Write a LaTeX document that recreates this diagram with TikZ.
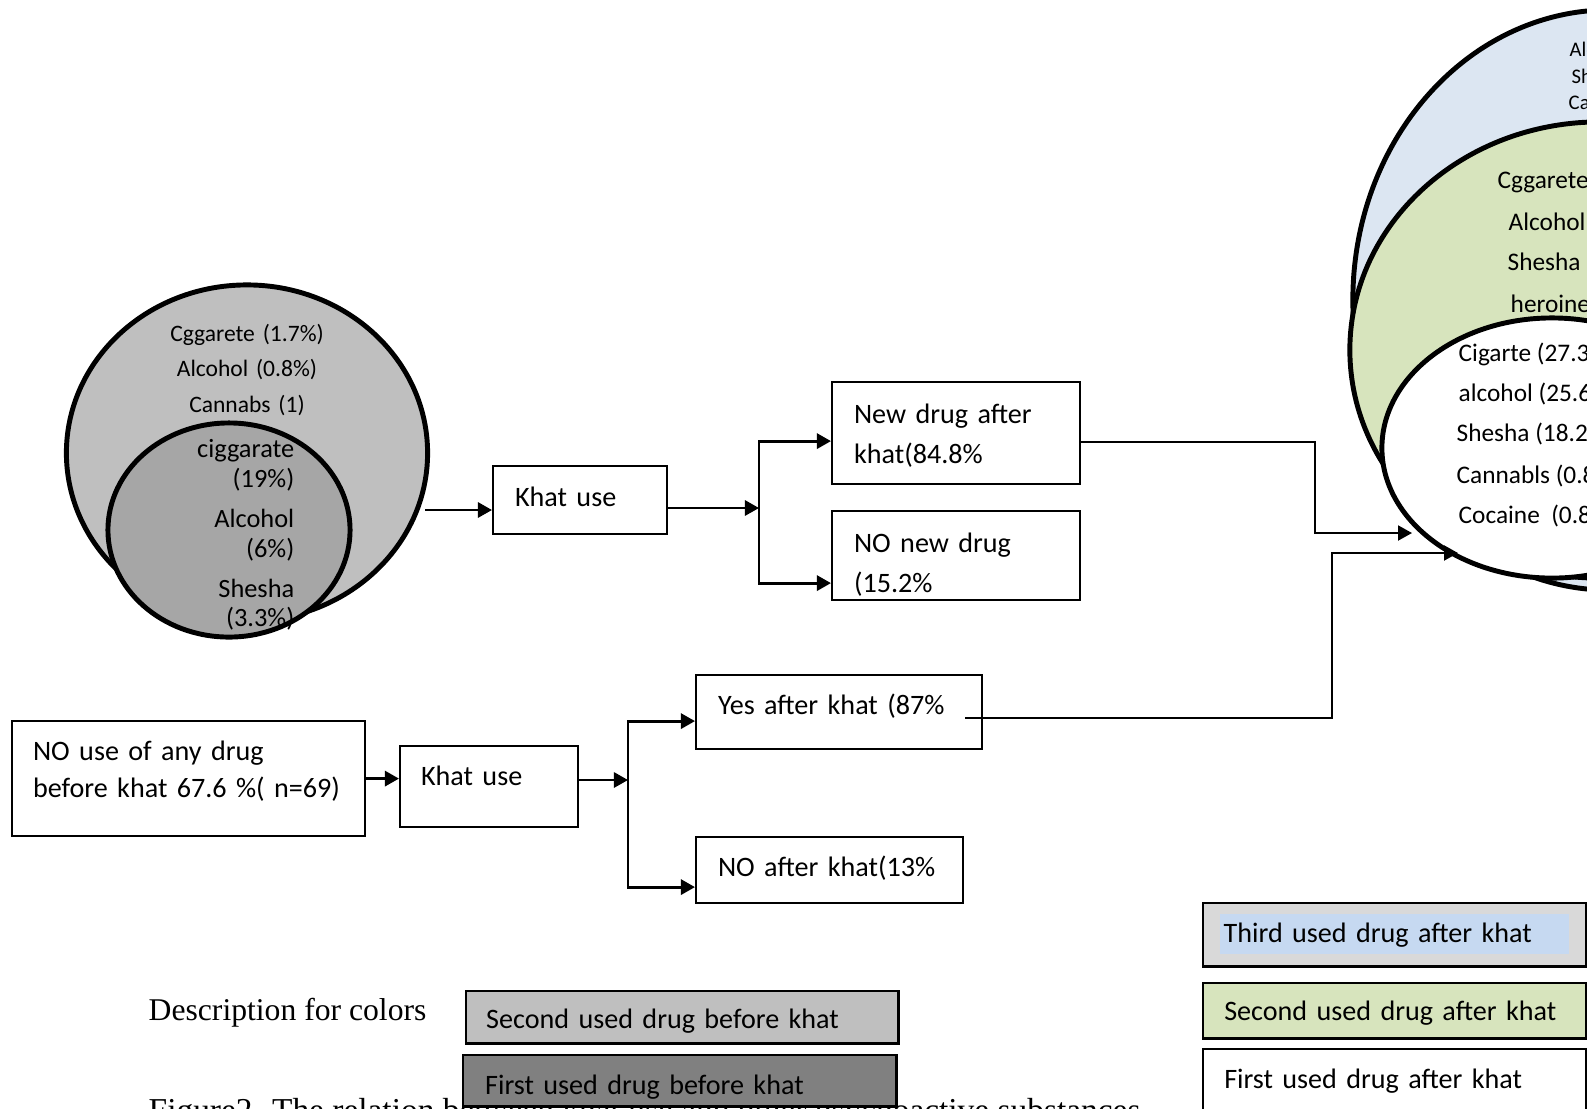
\documentclass[tikz,border=0pt]{standalone}
\usepackage{fontspec}
\setmainfont{Carlito}
\newfontfamily\serifcap{Liberation Serif}
\usetikzlibrary{arrows.meta, shapes.geometric}

\definecolor{graytwo}{HTML}{BFBFBF}
\definecolor{grayone}{HTML}{A6A6A6}
\definecolor{graydark}{HTML}{808080}
\definecolor{graylight}{HTML}{D9D9D9}
\definecolor{bluethree}{HTML}{DCE6F2}
\definecolor{bluehl}{HTML}{C6D9F1}
\definecolor{greentwo}{HTML}{D7E4BD}

\begin{document}
\begin{tikzpicture}[x=0.01cm, y=-0.01cm,
                    ring/.style={ellipse, draw, line width=1.4pt, inner sep=0pt},
                    stage/.style={rectangle, draw, line width=0.6pt, anchor=north west, inner ysep=0pt, align=left, font=\fontsize{8pt}{11.4pt}\selectfont},
                    swatch/.style={stage, line width=0.7pt},
                    drugs/.style={inner sep=0pt, text height=0pt, text depth=0pt, font=\fontsize{6.7pt}{10.1pt}\selectfont},
                    link/.style={draw, line width=0.8pt, -{Triangle[length=0.14cm, width=0.15cm]}},
                    longlink/.style={link, line width=0.6pt}
                ]
                    \useasboundingbox (0,0) rectangle (1587,1108);

                    % Drugs before khat
                    \node [ring, fill=graytwo, minimum width=3.61cm, minimum height=3.36cm] (secbefore) at (247,453) {};
                    \node [ring, fill=grayone, minimum width=2.42cm, minimum height=2.14cm] (firstbefore) at (229,530) {};
                    \node [drugs, anchor=north, align=center, text width=2cm] (secbeforelist) at (247,339) {Cggarete (1.7\%)\\Alcohol (0.8\%)\\Cannabs (1)};
                    \node [drugs, anchor=north east, align=right, text width=1.3cm, font=\fontsize{7.5pt}{8.5pt}\selectfont] (firstbeforelist) at (295,455) {ciggarate\\(19\%)\\[0.1cm]Alcohol\\(6\%)\\[0.1cm]Shesha\\(3.3\%)};

                    % Drugs after khat
                    \node [ring, fill=bluethree, minimum width=5.14cm, minimum height=5.8cm] (thirdafter) at (1610,300) {};
                    \node [ring, fill=greentwo, minimum width=5cm, minimum height=4.56cm] (secafter) at (1600,350) {};
                    \node [ring, fill=white, minimum width=3.4cm, minimum height=2.6cm] (firstafter) at (1552,448) {};
                    \foreach \dx/\dy/\dname in {1569/56/Alcohol, 1571/83/Shesha, 1568/109/Cannabis}
                        \node [drugs, anchor=base west, font=\fontsize{5.9pt}{7.5pt}\selectfont] (thirdafter-\dname) at (\dx,\dy) {\dname};
                    \foreach \dx/\dy/\dname in {1497/188/Cggarete, 1508/230/Alcohol, 1507/270/Shesha, 1510/312/heroine}
                        \node [drugs, anchor=base west, font=\fontsize{7.2pt}{9pt}\selectfont] (secafter-\dname) at (\dx,\dy) {\dname};
                    \foreach \dx/\dy/\dname in {1458/361/{Cigarte (27.3\%)}, 1458/401/{alcohol (25.6\%)}, 1456/441/{Shesha (18.2\%)}, 1456/483/{Cannabls (0.8\%)}, 1458/523/{Cocaine\ \ (0.8\%)}}
                        \node [drugs, anchor=base west, font=\fontsize{7.2pt}{9pt}\selectfont] (firstafter-\dy) at (\dx,\dy) {\dname};

                    % Place nodes
                    \node [stage, text width=1.30cm, inner xsep=0.22cm, text height=0.40cm, text depth=0.28cm] (khatA) at (492,465) {Khat use};
                    \node [stage, text width=2.04cm, inner xsep=0.22cm, text height=0.41cm, text depth=0.61cm] (newdrug) at (831,381) {New drug after\\khat(84.8\%};
                    \node [stage, text width=2.04cm, inner xsep=0.22cm, text height=0.41cm, text depth=0.48cm] (nonew) at (831,510) {NO new drug\\(15.2\%};
                    \node [stage, text width=3.11cm, inner xsep=0.21cm, text height=0.39cm, text depth=0.76cm, font=\fontsize{8pt}{10.5pt}\selectfont] (noany) at (11,720) {NO use of any drug\\\mbox{before khat 67.6 \%( n=69)}};
                    \node [stage, text width=1.36cm, inner xsep=0.21cm, text height=0.39cm, text depth=0.42cm] (khatB) at (399,745) {Khat use};
                    \node [stage, text width=2.42cm, inner xsep=0.22cm, text height=0.39cm, text depth=0.35cm] (yesafter) at (695,674) {Yes after khat (87\%};
                    \node [stage, text width=2.23cm, inner xsep=0.22cm, text height=0.39cm, text depth=0.27cm] (noafter) at (695,836) {NO after khat(13\%};

                    \coordinate (outA) at (425,510);
                    \coordinate (splitA) at (759,508);
                    \coordinate (splitB) at (628,780);
                    \coordinate (inA) at (1412,533);
                    \coordinate (inB) at (1458,553);

                    % Draw edges
                    \path [link] (outA) -- (outA -| khatA.west);
                    \path [link] (khatA.east |- splitA) -- (splitA);
                    \path [link] (splitA) |- ([yshift=-0.08cm]newdrug.west);
                    \path [link] (splitA) |- ([yshift=-0.275cm]nonew.west);
                    \path [link] (noany.east) -- (noany.east -| khatB.west);
                    \path [link] (khatB.east |- splitB) -- (splitB);
                    \path [link] (splitB) |- ([yshift=-0.09cm]yesafter.west);
                    \path [link] (splitB) |- ([yshift=-0.17cm]noafter.west);
                    \path [longlink] ([yshift=-0.09cm]newdrug.east) -- ++(234,0) |- (inA);
                    \path [longlink] ([xshift=-0.18cm, yshift=-0.06cm]yesafter.east) -- ++(367,0) |- (inB);

                    % Colour key
                    \node [anchor=base west, inner sep=0pt, font=\serifcap\fontsize{9pt}{11pt}\selectfont] (colordesc) at (148,1020) {Description for colors};
                    \node [anchor=base west, inner sep=0pt, font=\serifcap\fontsize{9.5pt}{11pt}\selectfont] (caption) at (148,1121) {Figure2. The relation between khat use and other psychoactive substances};
                    \node [swatch, fill=graytwo, text width=3.92cm, inner xsep=0.20cm, text height=0.37cm, text depth=0.15cm] (secbeforekey) at (465,990) {Second used drug before khat};
                    \node [swatch, fill=graydark, text width=3.89cm, inner xsep=0.22cm, text height=0.39cm, text depth=0.12cm] (firstbeforekey) at (462,1054) {First used drug before khat};
                    \node [swatch, fill=graylight, minimum width=3.83cm, minimum height=0.63cm] (thirdafterkey) at (1202,902) {};
                    \node [anchor=north west, fill=bluehl, inner ysep=0pt, inner xsep=0.04cm, text width=3.41cm, text height=0.29cm, text depth=0.11cm, font=\fontsize{8pt}{11.4pt}\selectfont] (thirdafterlabel) at (1219,913) {Third used drug after khat};
                    \node [swatch, fill=greentwo, text width=3.41cm, inner xsep=0.21cm, text height=0.37cm, text depth=0.18cm] (secafterkey) at (1202,982) {Second used drug after khat};
                    \node [swatch, text width=3.41cm, inner xsep=0.21cm, text height=0.39cm, text depth=0.30cm] (firstafterkey) at (1202,1048) {First used drug after khat};
            \end{tikzpicture}
\end{document}
